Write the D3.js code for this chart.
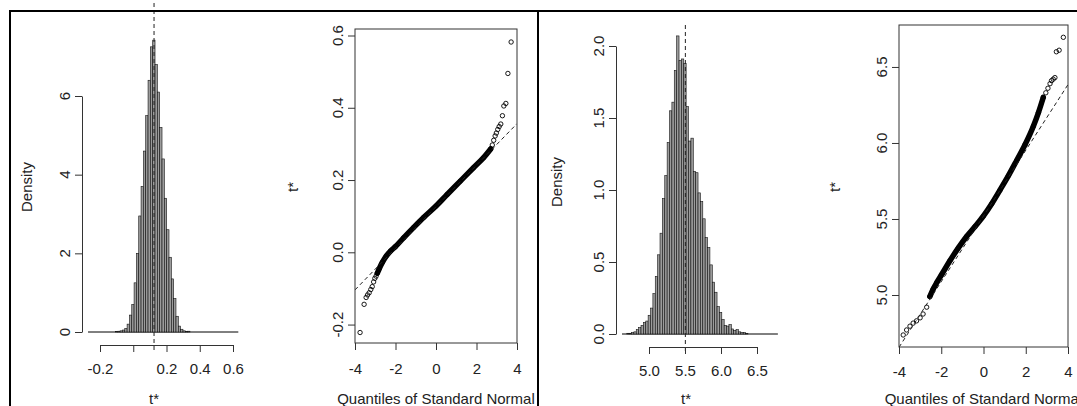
<!DOCTYPE html>
<html lang="en">
<head>
<meta charset="UTF-8">
<title>Bootstrap distributions of t*</title>
<script src="https://d3js.org/d3.v7.min.js"></script>
<style>
  body { margin: 0; background: #fff; }
  svg { display: block; font-family: "Liberation Sans", Arial, sans-serif; }
  .axis path, .axis line { fill: none; stroke: #333; }
  .lbl, .axis text { font-size: 15px; fill: #222; }
  .bar { fill: #9c9c9c; stroke: #111; stroke-width: 0.6; }
  .base { stroke: #000; stroke-width: 1; }
  .ref { stroke: #222; stroke-dasharray: 4,3; fill: none; }
  .box { fill: none; stroke: #333; }
  .band { fill: none; stroke: #000; stroke-width: 5.5; stroke-linejoin: round; stroke-linecap: round; }
  .pt { fill: none; stroke: #000; stroke-width: 0.9; }
  .frame { stroke: #000; stroke-width: 2; }
</style>
</head>
<body>
<svg width="1077" height="406"></svg>
<script>
  // ---- left pair: histogram of t* and normal QQ plot ----
  const hist1Breaks = [-0.107, -0.093, -0.079, -0.065, -0.051, -0.037, -0.023, -0.009, 0.005, 0.019,
                       0.033, 0.047, 0.061, 0.075, 0.089, 0.103, 0.117, 0.131, 0.145, 0.159,
                       0.173, 0.187, 0.201, 0.215, 0.229, 0.243, 0.257, 0.271, 0.285, 0.299,
                       0.313, 0.327, 0.341];
  const hist1Density = [0.01, 0.02, 0.03, 0.05, 0.09, 0.2, 0.43, 0.7, 1.25, 2.0,
                        2.95, 3.7, 4.6, 5.5, 6.4, 7.25, 7.42, 6.8, 6.1, 5.2,
                        4.4, 3.4, 2.6, 1.9, 1.35, 0.85, 0.4, 0.15, 0.07, 0.03,
                        0.01, 0.02];
  const hist1Range = [-0.272, 0.632];
  const hist1T0 = 0.125;
  const hist1XTicks = [-0.2, 0.0, 0.2, 0.4, 0.6];
  const hist1XLabels = ["-0.2", "", "0.2", "0.4", "0.6"];
  const hist1YTicks = [0, 2, 4, 6];
  const hist1YLabels = ["0", "2", "4", "6"];

  const qq1BandX = [-2.9, -2.8, -2.65, -2.45, -2.25, -2.0, -1.6, -1.1, -0.6, 0, 0.55, 1.2, 1.85, 2.35, 2.7];
  const qq1BandY = [-0.058, -0.045, -0.028, -0.01, 0.003, 0.016, 0.04, 0.069, 0.097, 0.128, 0.16, 0.197, 0.234, 0.262, 0.286];
  const qq1TailX = [-3.75, -3.55, -3.45, -3.38, -3.3, -3.22, -3.15, -3.08, -3.02, -2.96,
                    2.78, 2.85, 2.92, 2.98, 3.05, 3.12, 3.2, 3.28, 3.35, 3.45, 3.55, 3.71];
  const qq1TailY = [-0.222, -0.144, -0.125, -0.118, -0.112, -0.103, -0.095, -0.082, -0.072, -0.066,
                    0.297, 0.31, 0.322, 0.33, 0.34, 0.348, 0.355, 0.378, 0.405, 0.412, 0.495, 0.582];
  const qq1Line = [0.126, 0.0575];           // intercept, slope
  const qq1YLim = [-0.251, 0.618];
  const qq1YTicks = [-0.2, 0.0, 0.2, 0.4, 0.6];
  const qq1YLabels = ["-0.2", "0.0", "0.2", "0.4", "0.6"];

  // ---- right pair ----
  const hist2Breaks = [4.691, 4.724, 4.757, 4.79, 4.823, 4.856, 4.889, 4.922, 4.955, 4.988,
                       5.021, 5.054, 5.087, 5.12, 5.153, 5.186, 5.219, 5.252, 5.285, 5.318,
                       5.351, 5.384, 5.417, 5.45, 5.483, 5.516, 5.549, 5.582, 5.615, 5.648,
                       5.681, 5.714, 5.747, 5.78, 5.813, 5.846, 5.879, 5.912, 5.945, 5.978,
                       6.011, 6.044, 6.077, 6.11, 6.143, 6.176, 6.209, 6.242, 6.275, 6.308,
                       6.341, 6.374];
  const hist2Density = [0.005, 0.005, 0.01, 0.015, 0.03, 0.045, 0.06, 0.08, 0.09, 0.13,
                        0.18, 0.28, 0.4, 0.55, 0.7, 0.94, 1.1, 1.33, 1.55, 1.61,
                        1.83, 2.07, 1.9, 1.91, 1.88, 1.58, 1.34, 1.36, 1.13, 1.12,
                        0.98, 0.92, 0.8, 0.67, 0.6, 0.48, 0.36, 0.29, 0.19, 0.15,
                        0.1, 0.06, 0.055, 0.065, 0.035, 0.025, 0.03, 0.015, 0.01, 0.01,
                        0.005];
  const hist2Range = [4.625, 6.79];
  const hist2T0 = 5.505;
  const hist2XTicks = [5.0, 5.5, 6.0, 6.5];
  const hist2XLabels = ["5.0", "5.5", "6.0", "6.5"];
  const hist2YTicks = [0, 0.5, 1.0, 1.5, 2.0];
  const hist2YLabels = ["0.0", "0.5", "1.0", "1.5", "2.0"];

  const qq2BandX = [-2.54, -2.38, -2.2, -1.98, -1.59, -1.19, -0.8, -0.4, 0, 0.39, 0.78, 1.18, 1.57, 1.97, 2.36, 2.6, 2.83];
  const qq2BandY = [4.99, 5.04, 5.085, 5.135, 5.225, 5.31, 5.385, 5.45, 5.52, 5.6, 5.69, 5.785, 5.885, 5.99, 6.11, 6.2, 6.3];
  const qq2TailX = [-3.8, -3.64, -3.48, -3.33, -3.17, -3.0, -2.86, -2.69,
                    2.95, 3.05, 3.15, 3.22, 3.3, 3.38, 3.45, 3.58, 3.78];
  const qq2TailY = [4.737, 4.77, 4.795, 4.815, 4.83, 4.85, 4.875, 4.92,
                    6.33, 6.36, 6.39, 6.41, 6.42, 6.43, 6.6, 6.61, 6.695];
  const qq2Line = [5.52, 0.216];
  const qq2YLim = [4.658, 6.776];
  const qq2YTicks = [5.0, 5.5, 6.0, 6.5];
  const qq2YLabels = ["5.0", "5.5", "6.0", "6.5"];

  const qqXTicks = [-4, -2, 0, 2, 4];
  const qqXLabels = ["-4", "-2", "0", "2", "4"];

  const svg = d3.select("svg");
  const TICK = 7;

  function rotatedYLabels(g, y, ticks, labels, axisX) {
    g.selectAll("text.ylab")
      .data(ticks)
      .join("text")
        .attr("class", "lbl ylab")
        .attr("text-anchor", "middle")
        .attr("transform", d => `translate(${axisX - 12},${y(d)}) rotate(-90)`)
        .text((d, i) => labels[i]);
  }

  function cleanAxis(sel) {
    sel.attr("font-size", null).attr("font-family", null);
  }

  function drawHist(p) {
    const g = svg.append("g");
    const x = d3.scaleLinear().domain([p.xTicks[0], p.xTicks[p.xTicks.length - 1]]).range(p.xRange);
    const y = d3.scaleLinear().domain([p.yTicks[0], p.yTicks[p.yTicks.length - 1]]).range(p.yRange);

    const bins = p.density.map((d, i) => ({ x0: p.breaks[i], x1: p.breaks[i + 1], d }));

    g.append("line").attr("class", "base")
      .attr("x1", x(p.range[0])).attr("x2", x(p.range[1]))
      .attr("y1", y(0)).attr("y2", y(0));

    g.selectAll("rect.bar")
      .data(bins)
      .join("rect")
        .attr("class", "bar")
        .attr("x", b => x(b.x0))
        .attr("width", b => x(b.x1) - x(b.x0))
        .attr("y", b => y(b.d))
        .attr("height", b => y(0) - y(b.d));

    g.append("line").attr("class", "ref")
      .attr("x1", x(p.t0)).attr("x2", x(p.t0))
      .attr("y1", p.refTop).attr("y2", p.refBottom);

    g.append("g").attr("class", "axis")
      .attr("transform", `translate(${p.yAxisX},0)`)
      .call(d3.axisLeft(y).tickValues(p.yTicks).tickSize(TICK).tickSizeOuter(0).tickFormat(""))
      .call(cleanAxis);
    rotatedYLabels(g, y, p.yTicks, p.yLabels, p.yAxisX);

    g.append("g").attr("class", "axis")
      .attr("transform", `translate(0,${p.xAxisY})`)
      .call(d3.axisBottom(x).tickValues(p.xTicks).tickSize(TICK).tickSizeOuter(0)
              .tickPadding(p.xPad).tickFormat((d, i) => p.xLabels[i]))
      .call(cleanAxis);

    g.append("text").attr("class", "lbl").attr("text-anchor", "middle")
      .attr("x", p.xTitleX).attr("y", 404).text("t*");
    g.append("text").attr("class", "lbl").attr("text-anchor", "middle")
      .attr("transform", `translate(${p.yTitleX},${p.yTitleY}) rotate(-90)`).text("Density");
  }

  function drawQQ(p) {
    const g = svg.append("g");
    const x = d3.scaleLinear().domain([qqXTicks[0], qqXTicks[qqXTicks.length - 1]]).range([p.left, p.right]);
    const y = d3.scaleLinear().domain(p.yLim).range([p.bottom, p.top]);

    const clipId = "clip" + p.id;
    g.append("clipPath").attr("id", clipId)
      .append("rect")
        .attr("x", p.left).attr("y", p.top)
        .attr("width", p.right - p.left).attr("height", p.bottom - p.top);

    const band = p.bandX.map((v, i) => [v, p.bandY[i]]);
    const tail = p.tailX.map((v, i) => [v, p.tailY[i]]);
    const line = d3.line().x(d => x(d[0])).y(d => y(d[1])).curve(d3.curveMonotoneX);

    g.append("path").datum(band).attr("class", "band").attr("d", line);
    g.selectAll("circle.pt")
      .data(band.concat(tail))
      .join("circle")
        .attr("class", "pt")
        .attr("cx", d => x(d[0]))
        .attr("cy", d => y(d[1]))
        .attr("r", 2.2);

    const xs = x.domain();
    g.append("line").attr("class", "ref")
      .attr("clip-path", `url(#${clipId})`)
      .attr("x1", x(xs[0])).attr("y1", y(p.qqLine[0] + p.qqLine[1] * xs[0]))
      .attr("x2", x(xs[1])).attr("y2", y(p.qqLine[0] + p.qqLine[1] * xs[1]));

    g.append("rect").attr("class", "box")
      .attr("x", p.left).attr("y", p.top)
      .attr("width", p.right - p.left).attr("height", p.bottom - p.top);

    g.append("g").attr("class", "axis")
      .attr("transform", `translate(0,${p.bottom})`)
      .call(d3.axisBottom(x).tickValues(qqXTicks).tickSize(TICK).tickSizeOuter(0)
              .tickPadding(p.xPad).tickFormat((d, i) => qqXLabels[i]))
      .call(cleanAxis)
      .call(a => a.select(".domain").remove());

    g.append("g").attr("class", "axis")
      .attr("transform", `translate(${p.left},0)`)
      .call(d3.axisLeft(y).tickValues(p.yTicks).tickSize(TICK).tickSizeOuter(0).tickFormat(""))
      .call(cleanAxis)
      .call(a => a.select(".domain").remove());
    rotatedYLabels(g, y, p.yTicks, p.yLabels, p.left);

    g.append("text").attr("class", "lbl").attr("text-anchor", "middle")
      .attr("x", (p.left + p.right) / 2).attr("y", 404).text("Quantiles of Standard Normal");
    g.append("text").attr("class", "lbl").attr("text-anchor", "middle")
      .attr("transform", `translate(${p.yTitleX},187) rotate(-90)`).text("t*");
  }

  drawHist({
    breaks: hist1Breaks, density: hist1Density, range: hist1Range, t0: hist1T0,
    xTicks: hist1XTicks, xLabels: hist1XLabels, yTicks: hist1YTicks, yLabels: hist1YLabels,
    xRange: [100, 233], yRange: [332, 96], yAxisX: 82, xAxisY: 345, xPad: 11,
    refTop: 3, refBottom: 353, xTitleX: 154, yTitleX: 32, yTitleY: 187
  });

  drawQQ({
    id: 1, bandX: qq1BandX, bandY: qq1BandY, tailX: qq1TailX, tailY: qq1TailY,
    qqLine: qq1Line, yLim: qq1YLim, yTicks: qq1YTicks, yLabels: qq1YLabels,
    left: 355, right: 517, top: 29, bottom: 343, xPad: 13, yTitleX: 298
  });

  drawHist({
    breaks: hist2Breaks, density: hist2Density, range: hist2Range, t0: hist2T0,
    xTicks: hist2XTicks, xLabels: hist2XLabels, yTicks: hist2YTicks, yLabels: hist2YLabels,
    xRange: [649, 757], yRange: [334, 46], yAxisX: 616, xAxisY: 347, xPad: 11,
    refTop: 25, refBottom: 353, xTitleX: 686, yTitleX: 562, yTitleY: 182
  });

  drawQQ({
    id: 2, bandX: qq2BandX, bandY: qq2BandY, tailX: qq2TailX, tailY: qq2TailY,
    qqLine: qq2Line, yLim: qq2YLim, yTicks: qq2YTicks, yLabels: qq2YLabels,
    left: 899, right: 1068, top: 25, bottom: 347, xPad: 12, yTitleX: 840
  });

  // outer frame of the composed figure
  svg.append("line").attr("class", "frame").attr("x1", 9).attr("x2", 1077).attr("y1", 11).attr("y2", 11);
  svg.append("line").attr("class", "frame").attr("x1", 10).attr("x2", 10).attr("y1", 10).attr("y2", 406);
  svg.append("line").attr("class", "frame").attr("x1", 538).attr("x2", 538).attr("y1", 10).attr("y2", 406);
</script>
</body>
</html>
